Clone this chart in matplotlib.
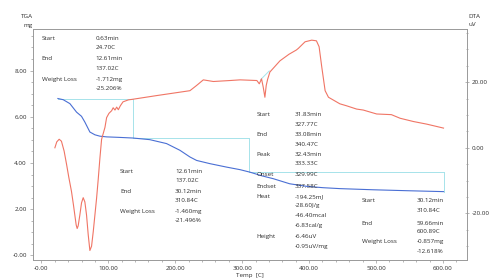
import matplotlib
matplotlib.use("Agg")
import matplotlib.pyplot as plt
from matplotlib.ticker import MultipleLocator, FixedLocator, FixedFormatter

# TGA curve (mg) vs temperature (C)
tga_temp = [24.7, 32.6, 42.6, 52.6, 60, 65, 72.5, 80, 87.5, 97.5, 115, 137, 162, 187, 207,
            222, 232, 252, 277, 297, 312, 330, 346.5, 371, 396, 421, 446, 496, 546, 600.9]
tga_mass = [6.79, 6.74, 6.57, 6.2, 6.02, 5.77, 5.34, 5.22, 5.16, 5.13, 5.11, 5.08, 5.01, 4.84, 4.55,
            4.26, 4.11, 3.97, 3.82, 3.71, 3.6, 3.44, 3.32, 3.1, 2.99, 2.93, 2.89, 2.84, 2.8, 2.76]

# DTA curve (uV) vs temperature (C)
dta_temp = [20.2, 23, 26.6, 30, 34, 37.7, 41, 45, 48, 50, 52, 53.5, 55, 57.5, 60, 62.5, 65,
            67.5, 70, 72.5, 75, 77.5, 80, 82.5, 85, 87.5, 90, 95, 97.5, 101, 105, 107.3,
            110, 112.5, 115, 118, 122, 130, 137, 172, 222, 232, 242, 257, 282, 297, 322,
            325.6, 329, 331.5, 334, 336, 338, 341.5, 356.5, 370, 381, 384, 386.5, 394, 404,
            411, 415, 419, 424, 429, 446, 456, 471, 481, 501, 523, 536, 556, 576, 600.9]
dta_uv = [0.0, 1.8, 2.6, 2.0, -1.0, -5.1, -9.0, -13.3, -17.5, -20.5, -23.5, -24.6, -23.8,
          -20.5, -16.8, -15.2, -16.5, -20.5, -26.5, -31.3, -30.0, -25.6, -20.5, -15.4, -9.5,
          -3.1, 2.6, 6.2, 9.2, 10.5, 11.3, 12.2, 11.5, 12.4, 11.6, 12.8, 14.0, 14.6, 14.8,
          15.9, 17.4, 19.0, 20.7, 20.2, 20.5, 20.7, 20.5, 19.5, 21.0, 18.5, 15.4, 19.0, 20.8,
          23.1, 26.5, 28.5, 29.8, 30.3, 30.8, 32.3, 32.8, 32.6, 30.8, 24.6, 17.4, 15.4, 13.4,
          12.8, 11.8, 11.5, 10.3, 10.1, 9.0, 8.0, 7.2, 6.0]

# weight loss steps: (start T, end T, start mass, end mass)
step_start_temp = [24.70, 137.02, 310.84]
step_end_temp = [137.02, 310.84, 600.89]
step_start_mass = [6.79, 5.08, 3.62]
step_end_mass = [5.08, 3.62, 2.76]

# DTA peak baseline
peak_base_temp = [327.77, 340.47]
peak_base_uv = [20.8, 23.4]

x_ticks = [0, 100, 200, 300, 400, 500, 600]
x_tick_labels = ["-0.00", "100.00", "200.00", "300.00", "400.00", "500.00", "600.00"]
tga_ticks = [0, 2, 4, 6, 8]
tga_tick_labels = ["-0.00", "2.00", "4.00", "6.00", "8.00"]
dta_ticks = [-20, 0, 20]
dta_tick_labels = ["-20.00", "0.00", "20.00"]

# annotation blocks: (label column, value column) lines, pixel positions of the picture
blocks = [
    (41.7, 95.7, [("Start", "0.63min", 38.3), (None, "24.70C", 47.7),
                  ("End", "12.61min", 59.0), (None, "137.02C", 68.7),
                  ("Weight Loss", "-1.712mg", 79.3), (None, "-25.206%", 89.0)]),
    (120.0, 175.0, [("Start", "12.61min", 171.7), (None, "137.02C", 180.7),
                    ("End", "30.12min", 191.7), (None, "310.84C", 200.7),
                    ("Weight Loss", "-1.460mg", 211.7), (None, "-21.496%", 220.7)]),
    (256.7, 294.3, [("Start", "31.83min", 114.3), (None, "327.77C", 124.0),
                    ("End", "33.08min", 134.7), (None, "340.47C", 144.0),
                    ("Peak", "32.43min", 154.0), (None, "333.33C", 163.3),
                    ("Onset", "329.99C", 175.0), ("Endset", "337.58C", 186.7),
                    ("Heat", "-194.25mJ", 196.7), (None, "-28.60J/g", 206.0),
                    (None, "-46.40mcal", 215.7), (None, "-6.83cal/g", 225.0),
                    ("Height", "-6.46uV", 236.7), (None, "-0.95uV/mg", 246.7)]),
    (361.7, 416.7, [("Start", "30.12min", 201.0), (None, "310.84C", 210.0),
                    ("End", "59.66min", 223.3), (None, "600.89C", 231.7),
                    ("Weight Loss", "-0.857mg", 241.7), (None, "-12.618%", 251.7)]),
]

W, H = 498, 279
TXT = "#2e2e2e"
AX_COL = "#9a9a9a"
FS = 4.5

plt.rcParams["font.family"] = ["Open Sans", "DejaVu Sans"]

fig = plt.figure(figsize=(W / 100, H / 100), dpi=100)
ax = fig.add_axes([33 / W, 1 - 260 / H, (467 - 33) / W, (260 - 29) / H])
ax2 = ax.twinx()

ax.set_xlim(-12.5, 636)
ax.set_ylim(-0.2, 9.8)
ax2.set_ylim(-34.2, 36.2)

for a in (ax, ax2):
    for sp in a.spines.values():
        sp.set_color(AX_COL)
        sp.set_linewidth(0.6)

ax.plot(tga_temp, tga_mass, color="#4a6fd4", lw=0.8, zorder=3)
ax2.plot(dta_temp, dta_uv, color="#f07565", lw=0.8, zorder=3)

cyan = "#a6e3ea"
for t0, t1, m0, m1 in zip(step_start_temp, step_end_temp, step_start_mass, step_end_mass):
    ax.plot([t0, t1], [m0, m0], color=cyan, lw=0.7, zorder=2)
    ax.plot([t1, t1], [m0, m1], color=cyan, lw=0.7, zorder=2)
ax2.plot(peak_base_temp, peak_base_uv, color=cyan, lw=0.7, zorder=2)

ax.xaxis.set_major_locator(FixedLocator(x_ticks))
ax.xaxis.set_major_formatter(FixedFormatter(x_tick_labels))
ax.xaxis.set_minor_locator(MultipleLocator(20))
ax.yaxis.set_major_locator(FixedLocator(tga_ticks))
ax.yaxis.set_major_formatter(FixedFormatter(tga_tick_labels))
ax.yaxis.set_minor_locator(MultipleLocator(0.5))
ax2.yaxis.set_major_locator(FixedLocator(dta_ticks))
ax2.yaxis.set_major_formatter(FixedFormatter(dta_tick_labels))
ax2.yaxis.set_minor_locator(MultipleLocator(5))

for a in (ax, ax2):
    a.tick_params(which="both", colors=AX_COL, labelcolor=TXT, labelsize=FS, width=0.5, pad=2)
    a.tick_params(which="major", length=2.5)
    a.tick_params(which="minor", length=1.5)
ax2.tick_params(axis="y", which="both", direction="inout")
ax.tick_params(axis="x", which="both", top=False)

ax.set_xlabel("Temp  [C]", fontsize=FS, color=TXT, labelpad=1)
fig.text(33 / W, 1 - 17 / H, "TGA", ha="right", va="center", fontsize=FS, color=TXT)
fig.text(33 / W, 1 - 25 / H, "mg", ha="right", va="center", fontsize=FS, color=TXT)
fig.text(468 / W, 1 - 17 / H, "DTA", ha="left", va="center", fontsize=FS, color=TXT)
fig.text(468 / W, 1 - 25 / H, "uV", ha="left", va="center", fontsize=FS, color=TXT)

for lx, vx, rows in blocks:
    for label, value, py in rows:
        if label:
            fig.text(lx / W, 1 - py / H, label, ha="left", va="center", fontsize=FS, color=TXT)
        fig.text(vx / W, 1 - py / H, value, ha="left", va="center", fontsize=FS, color=TXT)

fig.savefig("out.png", dpi=100)
